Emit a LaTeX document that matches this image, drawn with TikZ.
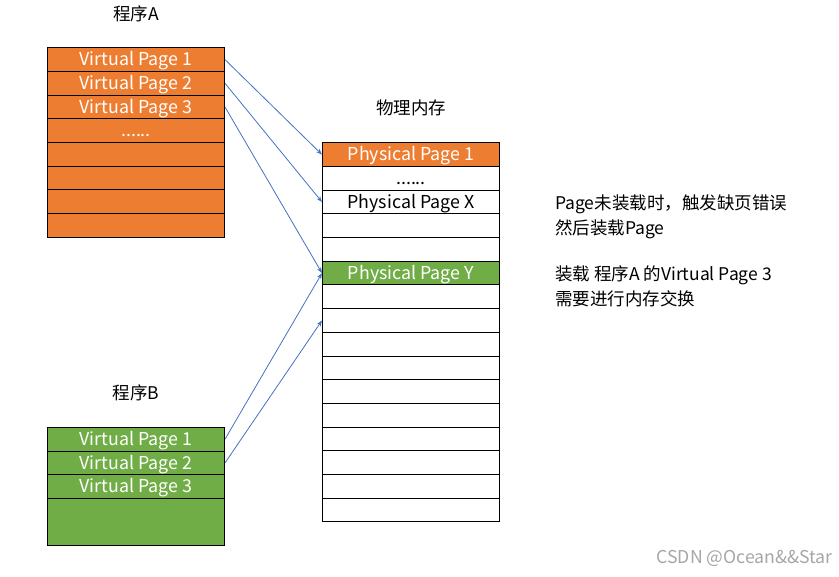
\documentclass[tikz,border=0pt]{standalone}
\usepackage{fontspec}
\setmainfont{Noto Sans CJK SC}
\usetikzlibrary{arrows.meta}
\definecolor{pgorange}{HTML}{ED7D31}
\definecolor{pggreen}{HTML}{70AD47}
\definecolor{pgblue}{HTML}{4472C4}
\tikzstyle{pagebox}=[rectangle,draw=black,line width=1pt,
                     minimum width=177pt,minimum height=23.7pt,
                     inner sep=0pt,text height=12.4pt,text depth=0pt,
                     font=\fontsize{17.8}{20}\selectfont]
\tikzstyle{orangepage}=[pagebox,fill=pgorange,text=white]
\tikzstyle{greenpage}=[pagebox,fill=pggreen,text=white]
\tikzstyle{whitepage}=[pagebox,fill=white]
\tikzstyle{title}=[font=\fontsize{17.5}{20}\selectfont]
\tikzstyle{note}=[anchor=west,align=left,inner sep=0pt,
                  font=\fontsize{17.5}{25}\selectfont]
\tikzstyle{maplink}=[-{Stealth[length=6pt,width=4.5pt]},
                     draw=pgblue,line width=0.8pt]

\begin{document}
\begin{tikzpicture}[x=1pt,y=-1pt]
    \useasboundingbox (0,0) rectangle (839,577);
    \newcommand{\rh}{23.7}
    % program A
    \node (ta) at (136,14) [title]{程序A};
    \node (a1) at (136,59.6) [orangepage]{Virtual Page 1};
    \node (a2) at (136,83.3) [orangepage]{Virtual Page 2};
    \node (a3) at (136,107.0) [orangepage]{Virtual Page 3};
    \node (a4) at (136,130.7) [orangepage]{......};
    \foreach \i in {5,...,8}
        \node (a\i) at (136,{59.6+(\i-1)*\rh}) [orangepage]{};
    % physical memory
    \node (tp) at (411,108) [title]{物理内存};
    \node (p1) at (411,154.6) [orangepage]{Physical Page 1};
    \node (p2) at (411,178.3) [whitepage]{......};
    \node (p3) at (411,202.0) [whitepage]{Physical Page X};
    \node (p4) at (411,225.7) [whitepage]{};
    \node (p5) at (411,249.4) [whitepage]{};
    \node (p6) at (411,273.1) [greenpage]{Physical Page Y};
    \foreach \i in {7,...,16}
        \node (p\i) at (411,{154.6+(\i-1)*\rh}) [whitepage]{};
    % program B
    \node (tb) at (136,393) [title]{程序B};
    \node (b1) at (136,439.2) [greenpage]{Virtual Page 1};
    \node (b2) at (136,462.9) [greenpage]{Virtual Page 2};
    \node (b3) at (136,486.6) [greenpage]{Virtual Page 3};
    \node (b4) at (136,522.2) [greenpage,minimum height=47.4pt]{};
    % mappings
    \draw[maplink] (a1.east) -- (p1.west);
    \draw[maplink] (a2.east) -- (p3.west);
    \draw[maplink] (a3.east) -- (p6.west);
    \draw[maplink] (b1.east) -- (p6.west);
    \draw[maplink] (b2.east) -- (p8.west);
    % notes
    \node (n1) at (555,216.5) [note]{Page未装载时，触发缺页错误\\然后装载Page};
    \node (n2) at (555,286.5) [note]{装载 程序A 的Virtual Page 3\\需要进行内存交换};
    \node (wm) at (833,558) [anchor=east,inner sep=0pt,text=black!35,
                             font=\fontsize{17.7}{20}\selectfont]{CSDN @Ocean\&\&Star};
\end{tikzpicture}
\end{document}
